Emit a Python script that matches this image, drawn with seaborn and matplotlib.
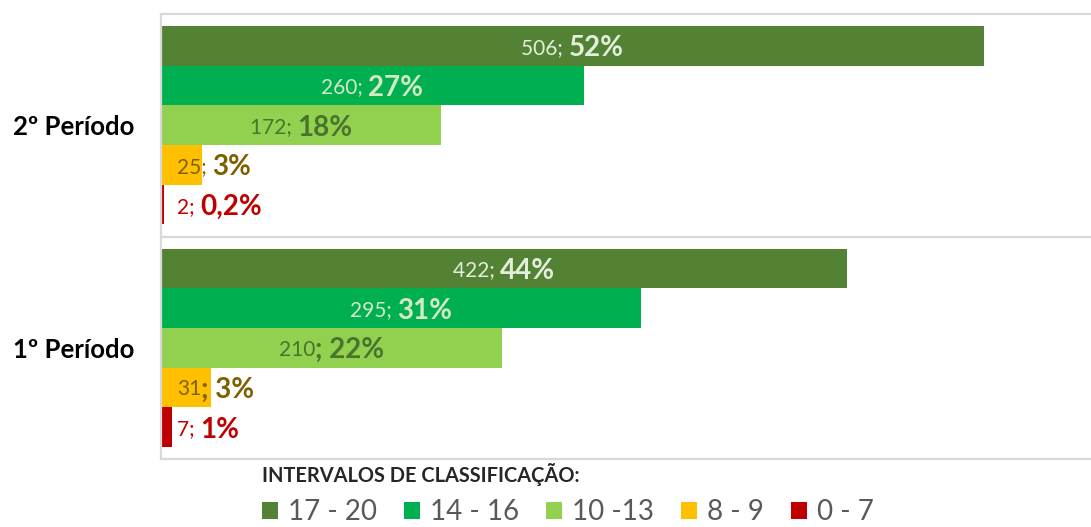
import matplotlib
matplotlib.use("Agg")
import matplotlib.pyplot as plt
import seaborn as sns
import pandas as pd

# ---- data ----
periods = ["2º Período", "1º Período"]
intervals = ["17 - 20", "14 - 16", "10 -13", "8 - 9", "0 - 7"]
counts_p2 = [506, 260, 172, 25, 2]
counts_p1 = [422, 295, 210, 31, 7]
pct_p2 = ["52%", "27%", "18%", "3%", "0,2%"]
pct_p1 = ["44%", "31%", "22%", "3%", "1%"]
bold_sep_p2 = [False, False, False, False, False]
bold_sep_p1 = [False, False, True, True, False]
colors = ["#548235", "#00B050", "#92D050", "#FFC000", "#C00000"]
label_colors = ["#E2EFDA", "#D3E9C6", "#4A742C", "#7F6000", "#C00000"]
legend_title = "INTERVALOS DE CLASSIFICAÇÃO:"

rows = []
for per, cnts in zip(periods, [counts_p2, counts_p1]):
    for iv, c in zip(intervals, cnts):
        rows.append({"period": per, "interval": iv, "count": c})
df = pd.DataFrame(rows)
pcts = {periods[0]: pct_p2, periods[1]: pct_p1}
seps = {periods[0]: bold_sep_p2, periods[1]: bold_sep_p1}
cnts_map = {periods[0]: counts_p2, periods[1]: counts_p1}

sns.set_theme(style="white")
plt.rcParams["font.family"] = ["Lato", "DejaVu Sans"]

W, H = 1091, 527
fig = plt.figure(figsize=(W / 100, H / 100), dpi=100)
ax = fig.add_axes([161 / W, (H - 459) / H, (W - 161) / W, (459 - 14) / H])

sns.barplot(data=df, y="period", x="count", hue="interval", order=periods,
            hue_order=intervals, palette=colors, orient="h", width=0.892,
            saturation=1, errorbar=None, linewidth=0, ax=ax)

ax.set_xlim(0, 572)
ax.set_ylim(1.5, -0.5)
ax.set_xticks([])
ax.set_xlabel("")
ax.set_ylabel("")
ax.tick_params(axis="y", length=0, pad=19)
for t in ax.get_yticklabels():
    t.set_fontsize(18.5)
    t.set_fontweight("bold")
    t.set_color("black")

grid_c = "#D9D9D9"
for s in ["top", "bottom", "left"]:
    ax.spines[s].set_color(grid_c)
    ax.spines[s].set_linewidth(1.6)
ax.spines["right"].set_visible(False)
ax.axhline(0.5, color=grid_c, lw=1.6, zorder=0)

# legend
handles, labels = ax.get_legend_handles_labels()
ax.get_legend().remove()
leg = fig.legend(handles, labels, ncol=5, loc="lower left",
                 bbox_to_anchor=(256 / W, -4 / H), frameon=False,
                 title=legend_title, alignment="left",
                 title_fontproperties={"weight": "bold", "size": 14.4},
                 prop={"size": 20}, handlelength=0.58, handleheight=0.58,
                 handletextpad=0.38, columnspacing=0.95, borderpad=0.1,
                 borderaxespad=0.1)
for t in leg.get_texts():
    t.set_color("#595959")

# data labels
fig.canvas.draw()
renderer = fig.canvas.get_renderer()
REG, BLD = 15, 20


def text_width(s, size, weight):
    t = ax.text(0, 0, s, fontsize=size, fontweight=weight)
    w = t.get_window_extent(renderer).width
    t.remove()
    return w

ax_left_px = ax.transData.transform((0, 0))[0]
inv = ax.transData.inverted()
for hi, cont in enumerate(ax.containers):
    for pi, p in enumerate(cont.patches):
        per = periods[pi]
        cnt = cnts_map[per][hi]
        pct = pcts[per][hi]
        if seps[per][hi]:
            s1, s2 = f"{cnt}", f"; {pct}"
        else:
            s1, s2 = f"{cnt}; ", pct
        w1 = text_width(s1, REG, "normal")
        w2 = text_width(s2, BLD, "bold")
        yc = p.get_y() + p.get_height() / 2
        cx, cy = ax.transData.transform((p.get_width() / 2, yc))
        left = max(cx - (w1 + w2) / 2, ax_left_px + 16)
        x1 = inv.transform((left, cy))[0]
        x2 = inv.transform((left + w1, cy))[0]
        col = label_colors[hi]
        ax.text(x1, yc, s1, fontsize=REG, color=col, ha="left",
                va="center_baseline")
        ax.text(x2, yc, s2, fontsize=BLD, fontweight="bold", color=col,
                ha="left", va="center_baseline")

fig.savefig("out.png", dpi=100)
